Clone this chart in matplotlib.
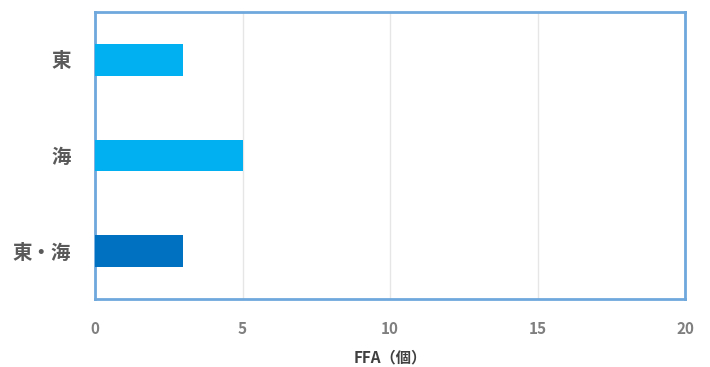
import matplotlib
matplotlib.use("Agg")
import matplotlib.pyplot as plt

plt.rcParams['font.family'] = ['Noto Sans CJK JP', 'DejaVu Sans']

categories = ["東", "海", "東・海"]
values = [3, 5, 3]
bar_colors = ["#00B0F0", "#00B0F0", "#0070C0"]
x_ticks = [0, 5, 10, 15, 20]
x_label = "FFA（個）"

fig = plt.figure(figsize=(7.1, 3.67), dpi=100)
ax = fig.add_axes([0.1338, 0.1853, 0.831, 0.782])

pos = list(range(len(categories)))
ax.barh(pos, values, height=0.33, color=bar_colors, zorder=3)
ax.set_ylim(len(categories) - 0.5, -0.5)
ax.set_yticks(pos)
ax.set_yticklabels(categories, fontsize=14, fontweight='bold', color='#595959')

ax.set_xlim(0, 20)
ax.set_xticks(x_ticks)
ax.set_xticklabels([str(t) for t in x_ticks], fontsize=11, fontweight='bold', color='#7f7f7f')
ax.set_xlabel(x_label, fontsize=11, fontweight='bold', color='#404040', labelpad=9)

ax.grid(axis='x', color='#e6e6e6', linewidth=1, zorder=0)
ax.tick_params(axis='x', length=0, pad=16)
ax.tick_params(axis='y', length=0, pad=17)
for s in ax.spines.values():
    s.set_color('#6FA8DC')
    s.set_linewidth(2)

fig.savefig("out.png", dpi=100, facecolor='white')
